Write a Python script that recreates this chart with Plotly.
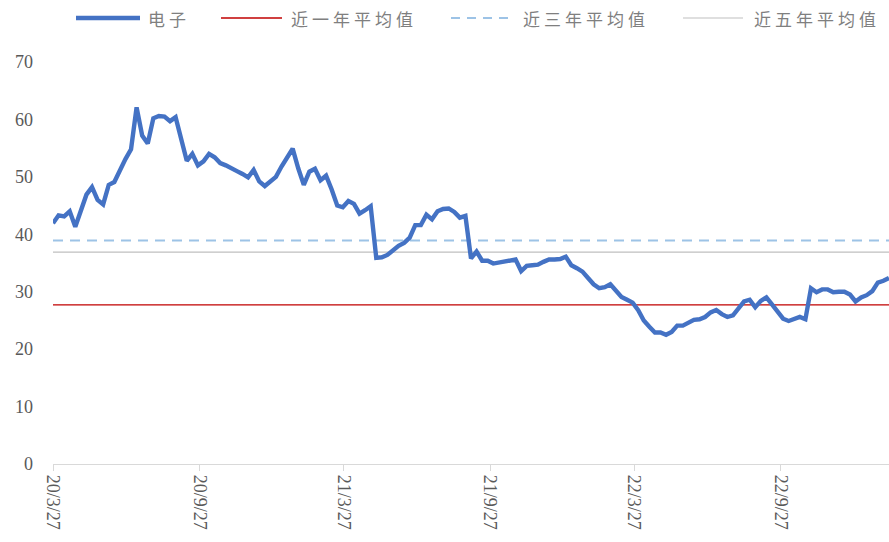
import pandas as pd
import plotly.graph_objects as go

# Weekly index level of the electronics sector (电子), starting 2020-03-27
start_date = "2020-03-27"
electronics = [
    41.9, 43.3, 43.1, 44.0, 41.3, 44.3, 46.9, 48.2, 46.0, 45.2,
    48.6, 49.1, 51.3, 53.1, 54.8, 62.1, 57.2, 55.8, 60.2, 60.6,
    60.5, 59.7, 60.4, 56.8, 52.8, 54.0, 52.0, 52.7, 54.0, 53.4,
    52.4, 52.0, 51.4, 51.0, 50.5, 49.9, 51.2, 49.2, 48.4, 49.3,
    50.0, 51.8, 53.5, 54.9, 51.5, 48.6, 50.9, 51.4, 49.4, 50.2,
    47.8, 45.0, 44.7, 45.8, 45.3, 43.6, 44.2, 44.9, 35.9, 36.0,
    36.4, 37.3, 38.0, 38.5, 39.4, 41.6, 41.6, 43.4, 42.6, 44.0,
    44.4, 44.5, 43.9, 42.9, 43.2, 35.8, 37.0, 35.4, 35.4, 34.9,
    35.1, 35.3, 35.4, 35.6, 33.6, 34.5, 34.6, 34.7, 35.2, 35.6,
    35.6, 35.7, 36.1, 34.6, 34.1, 33.5, 32.4, 31.3, 30.6, 30.8,
    31.3, 30.2, 29.1, 28.6, 28.1, 26.8, 25.0, 23.9, 22.9, 22.9,
    22.5, 23.0, 24.1, 24.1, 24.6, 25.1, 25.2, 25.6, 26.4, 26.8,
    26.1, 25.6, 25.9, 27.0, 28.3, 28.6, 27.3, 28.4, 29.0, 27.8,
    26.4, 25.3, 24.9, 25.3, 25.6, 25.2, 30.6, 29.9, 30.4, 30.4,
    29.9, 30.0, 30.0, 29.5, 28.3, 29.0, 29.4, 30.1, 31.6, 31.9,
    32.4,
]
dates = pd.date_range(start_date, periods=len(electronics), freq="7D")

# Historical averages
avg_1y = 27.7
avg_3y = 38.9
avg_5y = 36.9

series_names = ["电子", "近一年平均值", "近三年平均值", "近五年平均值"]

tick_dates = ["2020-03-27", "2020-09-27", "2021-03-27",
              "2021-09-27", "2022-03-27", "2022-09-27"]
tick_labels = ["20/3/27", "20/9/27", "21/3/27", "21/9/27", "22/3/27", "22/9/27"]

y_ticks = [0, 10, 20, 30, 40, 50, 60, 70]

BLUE = "#4472C4"
RED = "#C00000"
LIGHT_BLUE = "#9DC3E6"
GREY = "#BFBFBF"
TEXT = "#595959"

W, H = 889, 542
M_L, M_R, M_T, M_B = 53, 0, 62, 78

fig = go.Figure()

span = [dates[0], dates[-1]]
fig.add_trace(go.Scatter(x=span, y=[avg_5y, avg_5y], mode="lines",
                         line=dict(color=GREY, width=1.2), name=series_names[3],
                         showlegend=False, hoverinfo="skip"))
fig.add_trace(go.Scatter(x=span, y=[avg_3y, avg_3y], mode="lines",
                         line=dict(color=LIGHT_BLUE, width=2, dash="10px,7px"),
                         name=series_names[2], showlegend=False, hoverinfo="skip"))
fig.add_trace(go.Scatter(x=span, y=[avg_1y, avg_1y], mode="lines",
                         line=dict(color=RED, width=1.3), name=series_names[1],
                         showlegend=False, hoverinfo="skip"))
fig.add_trace(go.Scatter(x=dates, y=electronics, mode="lines",
                         line=dict(color=BLUE, width=4.4), name=series_names[0],
                         showlegend=False))


# Custom legend drawn above the plot area (pixel -> paper conversion)
def px_x(px):
    return (px - M_L) / (W - M_L - M_R)


def px_y(py):
    return (H - M_B - py) / (H - M_T - M_B)


legend_items = [
    (series_names[0], dict(color=BLUE, width=4.4), 76, 140, 146),
    (series_names[1], dict(color=RED, width=1.3), 221, 282, 289),
    (series_names[2], dict(color=LIGHT_BLUE, width=2, dash="9px,7px"), 451, 508, 521),
    (series_names[3], dict(color=GREY, width=1.2), 683, 743, 752),
]
leg_y = 18
for name, line, x0, x1, tx in legend_items:
    fig.add_shape(type="line", xref="paper", yref="paper",
                  x0=px_x(x0), x1=px_x(x1), y0=px_y(leg_y), y1=px_y(leg_y),
                  line=line)
    fig.add_annotation(xref="paper", yref="paper", x=px_x(tx), y=px_y(leg_y),
                       text=f'<span style="letter-spacing:4px">{name}</span>',
                       showarrow=False, xanchor="left", yanchor="middle",
                       font=dict(family="Noto Sans CJK SC", size=17, color="#7F7F7F"))

fig.update_layout(
    width=W, height=H,
    margin=dict(l=M_L, r=M_R, t=M_T, b=M_B),
    paper_bgcolor="white", plot_bgcolor="white",
    font=dict(family="Liberation Serif, Times New Roman, serif", size=18, color=TEXT),
    showlegend=False,
)
fig.update_xaxes(
    type="date",
    range=[dates[0], dates[-1]],
    tickvals=tick_dates, ticktext=tick_labels,
    tickangle=90,
    showgrid=False, zeroline=False,
    showline=True, linecolor="#D9D9D9", linewidth=1.3,
    ticks="outside", ticklen=6, tickcolor="#D9D9D9", tickwidth=1.3,
    tickfont=dict(size=18, color=TEXT),
)
fig.update_yaxes(
    range=[0, 70],
    tickvals=y_ticks,
    showgrid=False, zeroline=False, showline=False,
    ticks="", ticklabelstandoff=19,
    tickfont=dict(size=18, color=TEXT),
)

fig.write_html("out.html")
